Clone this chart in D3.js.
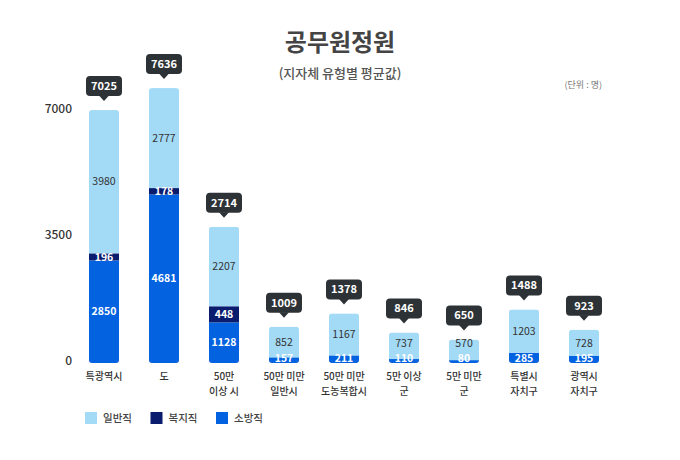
<!DOCTYPE html>
<html><head><meta charset="utf-8">
<script src="https://cdn.jsdelivr.net/npm/d3@7"></script>
<style>
html,body{margin:0;padding:0;background:#fff;}
svg{display:block;font-family:"Noto Sans CJK KR","Noto Sans",sans-serif;}
</style></head>
<body>
<svg id="c" width="680" height="460"></svg>
<script>
const categories = ["특광역시","도","50만\n이상 시","50만 미만\n일반시","50만 미만\n도농복합시","5만 이상\n군","5만 미만\n군","특별시\n자치구","광역시\n자치구"];
const fireValues    = [2850,4681,1128,157,211,110,80,285,195];   // 소방직
const welfareValues = [196,178,448,0,0,0,0,0,0];                 // 복지직
const generalValues = [3980,2777,2207,852,1167,737,570,1203,728];// 일반직
const totals = [7025,7636,2714,1009,1378,846,650,1488,923];
const seriesNames = ["소방직","복지직","일반직"];
const legendOrder = ["일반직","복지직","소방직"];
const yTicks = [0,3500,7000];
const colors = {"일반직":"#a3daf6","복지직":"#0a1c6e","소방직":"#0262e0"};
const textColors = {"일반직":"#333","복지직":"#fff","소방직":"#fff"};

const svg = d3.select("#c");
const y0 = 363, perK = 36;
const y = d3.scaleLinear().domain([0,7000]).range([y0, y0 - 7*perK]);
const x = d3.scaleBand().domain(categories).range([74,614]).paddingInner(0.5).paddingOuter(0.25);

// title
svg.append("text").attr("x",340).attr("y",43).attr("dy","0.35em").attr("text-anchor","middle")
  .attr("font-size",24).attr("font-weight",700).attr("fill","#444").text("공무원정원");
svg.append("text").attr("x",340).attr("y",73).attr("dy","0.35em").attr("text-anchor","middle")
  .attr("font-size",13).attr("font-weight",500).attr("fill","#555").text("(지자체 유형별 평균값)");
svg.append("text").attr("x",602).attr("y",85).attr("dy","0.35em").attr("text-anchor","end")
  .attr("font-size",9).attr("fill","#777").text("(단위 : 명)");

// y ticks
svg.append("g").selectAll("text").data(yTicks).join("text")
  .attr("x",72).attr("y",d=>y(d)-2).attr("dy","0.35em").attr("text-anchor","end")
  .attr("font-size",12).attr("font-weight",500).attr("fill","#333").text(d=>d);

const rows = categories.map((c,i)=>({cat:c,"소방직":fireValues[i],"복지직":welfareValues[i],"일반직":generalValues[i],total:totals[i]}));
const stacked = d3.stack().keys(seriesNames)(rows);

const defs = svg.append("defs");
rows.forEach((r,i)=>{
  const top = y(r["소방직"]+r["복지직"]+r["일반직"]);
  defs.append("clipPath").attr("id","clip"+i).append("rect")
    .attr("x",x(r.cat)).attr("y",top).attr("width",x.bandwidth()).attr("height",y0-top).attr("rx",3);
});

stacked.forEach(s=>{
  const key = s.key;
  const g = svg.append("g");
  s.forEach((d,i)=>{
    if (d[1]-d[0] <= 0) return;
    g.append("rect").attr("clip-path","url(#clip"+i+")")
      .attr("x",x(rows[i].cat)).attr("y",y(d[1])).attr("width",x.bandwidth())
      .attr("height",y(d[0])-y(d[1])).attr("fill",colors[key]);
  });
});
// segment labels (keep labels of thin segments inside the bar without overlapping)
stacked.forEach(s=>{
  const key = s.key;
  s.forEach((d,i)=>{
    const v = d[1]-d[0];
    if (v <= 0) return;
    let cy = (y(d[0])+y(d[1]))/2;
    if (key === "소방직") cy = Math.min(cy, y0-4.5);
    else cy = Math.min(cy, y0-20);
    svg.append("text").attr("x",x(rows[i].cat)+x.bandwidth()/2).attr("y",cy).attr("dy","0.35em")
      .attr("text-anchor","middle").attr("font-size",10.5).attr("font-weight",key==="일반직"?400:600)
      .attr("fill",textColors[key]).text(v);
  });
});

// total callouts
rows.forEach((r,i)=>{
  const top = y(r["소방직"]+r["복지직"]+r["일반직"]);
  const cx = x(r.cat)+x.bandwidth()/2;
  const bw = 36, bh = 20, bb = top - 14;
  const g = svg.append("g");
  g.append("rect").attr("x",cx-bw/2).attr("y",bb-bh).attr("width",bw).attr("height",bh).attr("rx",4).attr("fill","#2d3236");
  g.append("path").attr("d",`M${cx-5},${bb-0.5}L${cx},${bb+5}L${cx+5},${bb-0.5}Z`).attr("fill","#2d3236");
  g.append("text").attr("x",cx).attr("y",bb-bh/2).attr("dy","0.35em").attr("text-anchor","middle")
    .attr("font-size",11).attr("font-weight",600).attr("fill","#fff").text(r.total);
});

// x labels
rows.forEach(r=>{
  const lines = r.cat.split("\n");
  lines.forEach((l,k)=>{
    svg.append("text").attr("x",x(r.cat)+x.bandwidth()/2).attr("y",376.5 + k*14.5).attr("dy","0.35em")
      .attr("text-anchor","middle").attr("font-size",10).attr("font-weight",500).attr("fill","#333").text(l);
  });
});

// legend
legendOrder.forEach((k,i)=>{
  const lx = 85 + i*65.5;
  svg.append("rect").attr("x",lx).attr("y",412).attr("width",12).attr("height",12).attr("fill",colors[k]);
  svg.append("text").attr("x",lx+18).attr("y",418).attr("dy","0.35em").attr("font-size",10.5)
    .attr("font-weight",500).attr("fill","#444").text(k);
});
</script>
</body></html>
